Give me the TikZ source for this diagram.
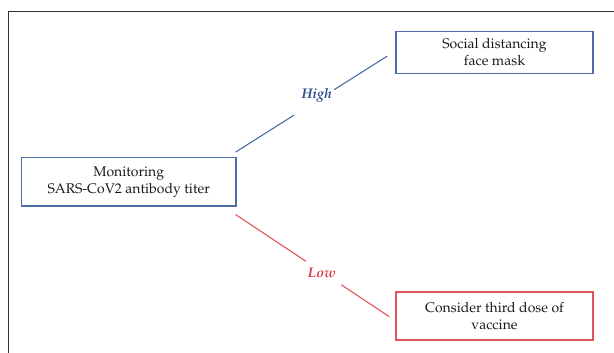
\documentclass[tikz,border=0pt]{standalone}
\usepackage[T1]{fontenc}
\usepackage{mathpazo}
\usetikzlibrary{calc}
\definecolor{boxblue}{HTML}{4A6DA6}
\definecolor{txtblue}{HTML}{2B4A8C}
\definecolor{boxred}{HTML}{E2535C}
\definecolor{txtred}{HTML}{D93A46}
\begin{document}
\begin{tikzpicture}[x=1pt,y=-1pt,
  box/.style={draw,line width=1.2pt,align=center,inner sep=0pt,
    font=\fontsize{14}{17}\selectfont,text=black!90},
  lbl/.style={font=\fontsize{14}{17}\selectfont\bfseries\itshape},
  conn/.style={line width=1.1pt}]
\useasboundingbox (0,0) rectangle (614,353);
\draw[line width=1.3pt,black!80] (8.5,11.5) -- (618,11.5) (8.5,11.5) -- (8.5,360);
\node[box,draw=boxblue,minimum width=214.5pt,minimum height=48.5pt] (mon) at (128.75,181.75)
  {Monitoring\\SARS-CoV2 antibody titer};
\node[box,draw=boxblue,minimum width=197pt,minimum height=42pt] (soc) at (494.5,52.5)
  {Social distancing\\face mask};
\node[box,draw=boxred,minimum width=197pt,minimum height=48pt] (vac) at (494.5,316)
  {Consider third dose of\\vaccine};
\coordinate (h1) at ($(mon.north east)+(-1,-4.8)$);
\coordinate (h2) at ($(soc.west)+(-8,3.5)$);
\coordinate (l1) at ($(mon.south east)+(-1,8)$);
\coordinate (l2) at ($(vac.west)+(-6,0.7)$);
\draw[conn,boxblue] (h1) -- ($(h1)!0.386!(h2)$) ($(h1)!0.649!(h2)$) -- (h2);
\draw[conn,boxred] (l1) -- ($(l1)!0.458!(l2)$) ($(l1)!0.688!(l2)$) -- (l2);
\node[lbl,text=txtblue] (high) at (316.7,95) {High};
\node[lbl,text=txtred] (low) at (321.7,273) {Low};
\end{tikzpicture}
\end{document}
